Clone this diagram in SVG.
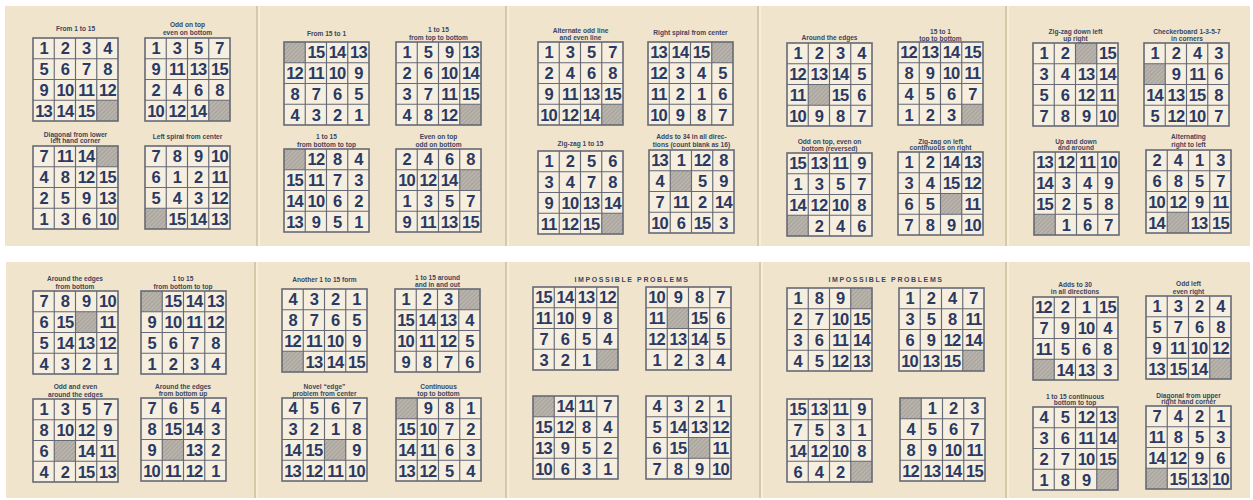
<svg xmlns="http://www.w3.org/2000/svg" xmlns:xlink="http://www.w3.org/1999/xlink" width="1253" height="500" viewBox="0 0 1253 500">
<style>
.n{font-family:"Liberation Sans",Arial,sans-serif;font-weight:bold;font-size:16.5px;fill:#2b3963;text-anchor:middle;letter-spacing:-0.8px}
.l{font-family:"Liberation Sans",Arial,sans-serif;font-weight:bold;font-size:6.6px;fill:#3a4563;text-anchor:middle}
.t{font-family:"Liberation Sans",Arial,sans-serif;font-weight:bold;font-size:7px;fill:#3a4563;text-anchor:middle;letter-spacing:1.6px}
.bl{fill:url(#h)}
.fd{stroke:#d6c8a9;stroke-width:2}
.fh{stroke:#f8f0de;stroke-width:1.5}
</style>
<defs>
<pattern id="h" width="3" height="3" patternUnits="userSpaceOnUse" patternTransform="rotate(45)">
<rect width="3" height="3" fill="#b8b3ab"/>
<line x1="0" y1="0" x2="0" y2="3" stroke="#94908a" stroke-width="1"/>
</pattern>
<rect id="bg" width="85" height="83" fill="#f6efdf"/>
<g id="gl" fill="none" stroke="#666976">
<rect width="85" height="83" stroke-width="1.6"/>
<path d="M21.25 0V83M42.5 0V83M63.75 0V83M0 20.75H85M0 41.5H85M0 62.25H85" stroke-width="1.15"/>
</g>
</defs>

<rect width="1253" height="500" fill="#ffffff"/>
<g id="pages">
<rect x="5" y="6" width="1245" height="240" fill="#f0e5cc"/>
<rect x="6" y="262" width="1244" height="236" fill="#f0e5cc"/>
<line class="fd" x1="257" y1="6" x2="257" y2="246"/><line class="fh" x1="259" y1="6" x2="259" y2="246"/>
<line class="fd" x1="506" y1="6" x2="506" y2="246"/><line class="fh" x1="508" y1="6" x2="508" y2="246"/>
<line class="fd" x1="758" y1="6" x2="758" y2="246"/><line class="fh" x1="760" y1="6" x2="760" y2="246"/>
<line class="fd" x1="1006" y1="6" x2="1006" y2="246"/><line class="fh" x1="1008" y1="6" x2="1008" y2="246"/>
<line class="fd" x1="255" y1="262" x2="255" y2="498"/><line class="fh" x1="257" y1="262" x2="257" y2="498"/>
<line class="fd" x1="506" y1="262" x2="506" y2="498"/><line class="fh" x1="508" y1="262" x2="508" y2="498"/>
<line class="fd" x1="760" y1="262" x2="760" y2="498"/><line class="fh" x1="762" y1="262" x2="762" y2="498"/>
<line class="fd" x1="1006" y1="262" x2="1006" y2="498"/><line class="fh" x1="1008" y1="262" x2="1008" y2="498"/>
</g>
<g id="connectors"/>

<!-- Panel 1 -->
<g id="p1a"><text class="l" x="75.5" y="31">From 1 to 15</text>
<g transform="translate(33,38)"><use href="#bg"/><rect class="bl" x="63.75" y="62.25" width="21.25" height="20.75"/><use href="#gl"/>
<text class="n" y="16.4"><tspan x="10.6">1</tspan><tspan x="31.9">2</tspan><tspan x="53.1">3</tspan><tspan x="74.4">4</tspan></text>
<text class="n" y="37.1"><tspan x="10.6">5</tspan><tspan x="31.9">6</tspan><tspan x="53.1">7</tspan><tspan x="74.4">8</tspan></text>
<text class="n" y="57.9"><tspan x="10.6">9</tspan><tspan x="31.9">10</tspan><tspan x="53.1">11</tspan><tspan x="74.4">12</tspan></text>
<text class="n" y="78.6"><tspan x="10.6">13</tspan><tspan x="31.9">14</tspan><tspan x="53.1">15</tspan></text></g></g>

<g id="p1b"><text class="l" x="187.5" y="26.5">Odd on top</text><text class="l" x="187.5" y="35">even on bottom</text>
<g transform="translate(145,38)"><use href="#bg"/><rect class="bl" x="63.75" y="62.25" width="21.25" height="20.75"/><use href="#gl"/>
<text class="n" y="16.4"><tspan x="10.6">1</tspan><tspan x="31.9">3</tspan><tspan x="53.1">5</tspan><tspan x="74.4">7</tspan></text>
<text class="n" y="37.1"><tspan x="10.6">9</tspan><tspan x="31.9">11</tspan><tspan x="53.1">13</tspan><tspan x="74.4">15</tspan></text>
<text class="n" y="57.9"><tspan x="10.6">2</tspan><tspan x="31.9">4</tspan><tspan x="53.1">6</tspan><tspan x="74.4">8</tspan></text>
<text class="n" y="78.6"><tspan x="10.6">10</tspan><tspan x="31.9">12</tspan><tspan x="53.1">14</tspan></text></g></g>

<g id="p1c"><text class="l" x="75.5" y="136.5">Diagonal from lower</text><text class="l" x="75.5" y="143">left hand corner</text>
<g transform="translate(33,146)"><use href="#bg"/><rect class="bl" x="63.75" y="0" width="21.25" height="20.75"/><use href="#gl"/>
<text class="n" y="16.4"><tspan x="10.6">7</tspan><tspan x="31.9">11</tspan><tspan x="53.1">14</tspan></text>
<text class="n" y="37.1"><tspan x="10.6">4</tspan><tspan x="31.9">8</tspan><tspan x="53.1">12</tspan><tspan x="74.4">15</tspan></text>
<text class="n" y="57.9"><tspan x="10.6">2</tspan><tspan x="31.9">5</tspan><tspan x="53.1">9</tspan><tspan x="74.4">13</tspan></text>
<text class="n" y="78.6"><tspan x="10.6">1</tspan><tspan x="31.9">3</tspan><tspan x="53.1">6</tspan><tspan x="74.4">10</tspan></text></g></g>

<g id="p1d"><text class="l" x="187.5" y="138.5">Left spiral from center</text>
<g transform="translate(145,146)"><use href="#bg"/><rect class="bl" x="0" y="62.25" width="21.25" height="20.75"/><use href="#gl"/>
<text class="n" y="16.4"><tspan x="10.6">7</tspan><tspan x="31.9">8</tspan><tspan x="53.1">9</tspan><tspan x="74.4">10</tspan></text>
<text class="n" y="37.1"><tspan x="10.6">6</tspan><tspan x="31.9">1</tspan><tspan x="53.1">2</tspan><tspan x="74.4">11</tspan></text>
<text class="n" y="57.9"><tspan x="10.6">5</tspan><tspan x="31.9">4</tspan><tspan x="53.1">3</tspan><tspan x="74.4">12</tspan></text>
<text class="n" y="78.6"><tspan x="31.9">15</tspan><tspan x="53.1">14</tspan><tspan x="74.4">13</tspan></text></g></g>

<!-- Panel 2 -->
<g id="p2a"><text class="l" x="326.5" y="36">From 15 to 1</text>
<g transform="translate(284,42)"><use href="#bg"/><rect class="bl" x="0" y="0" width="21.25" height="20.75"/><use href="#gl"/>
<text class="n" y="16.4"><tspan x="31.9">15</tspan><tspan x="53.1">14</tspan><tspan x="74.4">13</tspan></text>
<text class="n" y="37.1"><tspan x="10.6">12</tspan><tspan x="31.9">11</tspan><tspan x="53.1">10</tspan><tspan x="74.4">9</tspan></text>
<text class="n" y="57.9"><tspan x="10.6">8</tspan><tspan x="31.9">7</tspan><tspan x="53.1">6</tspan><tspan x="74.4">5</tspan></text>
<text class="n" y="78.6"><tspan x="10.6">4</tspan><tspan x="31.9">3</tspan><tspan x="53.1">2</tspan><tspan x="74.4">1</tspan></text></g></g>

<g id="p2b"><text class="l" x="438.5" y="32">1 to 15</text><text class="l" x="438.5" y="40">from top to bottom</text>
<g transform="translate(396,42)"><use href="#bg"/><rect class="bl" x="63.75" y="62.25" width="21.25" height="20.75"/><use href="#gl"/>
<text class="n" y="16.4"><tspan x="10.6">1</tspan><tspan x="31.9">5</tspan><tspan x="53.1">9</tspan><tspan x="74.4">13</tspan></text>
<text class="n" y="37.1"><tspan x="10.6">2</tspan><tspan x="31.9">6</tspan><tspan x="53.1">10</tspan><tspan x="74.4">14</tspan></text>
<text class="n" y="57.9"><tspan x="10.6">3</tspan><tspan x="31.9">7</tspan><tspan x="53.1">11</tspan><tspan x="74.4">15</tspan></text>
<text class="n" y="78.6"><tspan x="10.6">4</tspan><tspan x="31.9">8</tspan><tspan x="53.1">12</tspan></text></g></g>

<g id="p2c"><text class="l" x="326.5" y="139">1 to 15</text><text class="l" x="326.5" y="147">from bottom to top</text>
<g transform="translate(284,149)"><use href="#bg"/><rect class="bl" x="0" y="0" width="21.25" height="20.75"/><use href="#gl"/>
<text class="n" y="16.4"><tspan x="31.9">12</tspan><tspan x="53.1">8</tspan><tspan x="74.4">4</tspan></text>
<text class="n" y="37.1"><tspan x="10.6">15</tspan><tspan x="31.9">11</tspan><tspan x="53.1">7</tspan><tspan x="74.4">3</tspan></text>
<text class="n" y="57.9"><tspan x="10.6">14</tspan><tspan x="31.9">10</tspan><tspan x="53.1">6</tspan><tspan x="74.4">2</tspan></text>
<text class="n" y="78.6"><tspan x="10.6">13</tspan><tspan x="31.9">9</tspan><tspan x="53.1">5</tspan><tspan x="74.4">1</tspan></text></g></g>

<g id="p2d"><text class="l" x="438.5" y="139">Even on top</text><text class="l" x="438.5" y="147">odd on bottom</text>
<g transform="translate(396,149)"><use href="#bg"/><rect class="bl" x="63.75" y="20.75" width="21.25" height="20.75"/><use href="#gl"/>
<text class="n" y="16.4"><tspan x="10.6">2</tspan><tspan x="31.9">4</tspan><tspan x="53.1">6</tspan><tspan x="74.4">8</tspan></text>
<text class="n" y="37.1"><tspan x="10.6">10</tspan><tspan x="31.9">12</tspan><tspan x="53.1">14</tspan></text>
<text class="n" y="57.9"><tspan x="10.6">1</tspan><tspan x="31.9">3</tspan><tspan x="53.1">5</tspan><tspan x="74.4">7</tspan></text>
<text class="n" y="78.6"><tspan x="10.6">9</tspan><tspan x="31.9">11</tspan><tspan x="53.1">13</tspan><tspan x="74.4">15</tspan></text></g></g>

<!-- Panel 3 -->
<g id="p3a"><text class="l" x="580.5" y="33">Alternate odd line</text><text class="l" x="580.5" y="40">and even line</text>
<g transform="translate(538,42)"><use href="#bg"/><rect class="bl" x="63.75" y="62.25" width="21.25" height="20.75"/><use href="#gl"/>
<text class="n" y="16.4"><tspan x="10.6">1</tspan><tspan x="31.9">3</tspan><tspan x="53.1">5</tspan><tspan x="74.4">7</tspan></text>
<text class="n" y="37.1"><tspan x="10.6">2</tspan><tspan x="31.9">4</tspan><tspan x="53.1">6</tspan><tspan x="74.4">8</tspan></text>
<text class="n" y="57.9"><tspan x="10.6">9</tspan><tspan x="31.9">11</tspan><tspan x="53.1">13</tspan><tspan x="74.4">15</tspan></text>
<text class="n" y="78.6"><tspan x="10.6">10</tspan><tspan x="31.9">12</tspan><tspan x="53.1">14</tspan></text></g></g>

<g id="p3b"><text class="l" x="690.5" y="35">Right spiral from center</text>
<g transform="translate(648,42)"><use href="#bg"/><rect class="bl" x="63.75" y="0" width="21.25" height="20.75"/><use href="#gl"/>
<text class="n" y="16.4"><tspan x="10.6">13</tspan><tspan x="31.9">14</tspan><tspan x="53.1">15</tspan></text>
<text class="n" y="37.1"><tspan x="10.6">12</tspan><tspan x="31.9">3</tspan><tspan x="53.1">4</tspan><tspan x="74.4">5</tspan></text>
<text class="n" y="57.9"><tspan x="10.6">11</tspan><tspan x="31.9">2</tspan><tspan x="53.1">1</tspan><tspan x="74.4">6</tspan></text>
<text class="n" y="78.6"><tspan x="10.6">10</tspan><tspan x="31.9">9</tspan><tspan x="53.1">8</tspan><tspan x="74.4">7</tspan></text></g></g>

<g id="p3c"><text class="l" x="580.5" y="146">Zig-zag 1 to 15</text>
<g transform="translate(538,151)"><use href="#bg"/><rect class="bl" x="63.75" y="62.25" width="21.25" height="20.75"/><use href="#gl"/>
<text class="n" y="16.4"><tspan x="10.6">1</tspan><tspan x="31.9">2</tspan><tspan x="53.1">5</tspan><tspan x="74.4">6</tspan></text>
<text class="n" y="37.1"><tspan x="10.6">3</tspan><tspan x="31.9">4</tspan><tspan x="53.1">7</tspan><tspan x="74.4">8</tspan></text>
<text class="n" y="57.9"><tspan x="10.6">9</tspan><tspan x="31.9">10</tspan><tspan x="53.1">13</tspan><tspan x="74.4">14</tspan></text>
<text class="n" y="78.6"><tspan x="10.6">11</tspan><tspan x="31.9">12</tspan><tspan x="53.1">15</tspan></text></g></g>

<g id="p3d"><text class="l" x="691.5" y="139">Adds to 34 in all direc-</text><text class="l" x="691.5" y="147">tions (count blank as 16)</text>
<g transform="translate(649,150)"><use href="#bg"/><rect class="bl" x="21.25" y="20.75" width="21.25" height="20.75"/><use href="#gl"/>
<text class="n" y="16.4"><tspan x="10.6">13</tspan><tspan x="31.9">1</tspan><tspan x="53.1">12</tspan><tspan x="74.4">8</tspan></text>
<text class="n" y="37.1"><tspan x="10.6">4</tspan><tspan x="53.1">5</tspan><tspan x="74.4">9</tspan></text>
<text class="n" y="57.9"><tspan x="10.6">7</tspan><tspan x="31.9">11</tspan><tspan x="53.1">2</tspan><tspan x="74.4">14</tspan></text>
<text class="n" y="78.6"><tspan x="10.6">10</tspan><tspan x="31.9">6</tspan><tspan x="53.1">15</tspan><tspan x="74.4">3</tspan></text></g></g>

<!-- Panel 4 -->
<g id="p4a"><text class="l" x="829.5" y="40">Around the edges</text>
<g transform="translate(787,43)"><use href="#bg"/><rect class="bl" x="21.25" y="41.5" width="21.25" height="20.75"/><use href="#gl"/>
<text class="n" y="16.4"><tspan x="10.6">1</tspan><tspan x="31.9">2</tspan><tspan x="53.1">3</tspan><tspan x="74.4">4</tspan></text>
<text class="n" y="37.1"><tspan x="10.6">12</tspan><tspan x="31.9">13</tspan><tspan x="53.1">14</tspan><tspan x="74.4">5</tspan></text>
<text class="n" y="57.9"><tspan x="10.6">11</tspan><tspan x="53.1">15</tspan><tspan x="74.4">6</tspan></text>
<text class="n" y="78.6"><tspan x="10.6">10</tspan><tspan x="31.9">9</tspan><tspan x="53.1">8</tspan><tspan x="74.4">7</tspan></text></g></g>

<g id="p4b"><text class="l" x="940.5" y="34">15 to 1</text><text class="l" x="940.5" y="40.5">top to bottom</text>
<g transform="translate(898,42)"><use href="#bg"/><rect class="bl" x="63.75" y="62.25" width="21.25" height="20.75"/><use href="#gl"/>
<text class="n" y="16.4"><tspan x="10.6">12</tspan><tspan x="31.9">13</tspan><tspan x="53.1">14</tspan><tspan x="74.4">15</tspan></text>
<text class="n" y="37.1"><tspan x="10.6">8</tspan><tspan x="31.9">9</tspan><tspan x="53.1">10</tspan><tspan x="74.4">11</tspan></text>
<text class="n" y="57.9"><tspan x="10.6">4</tspan><tspan x="31.9">5</tspan><tspan x="53.1">6</tspan><tspan x="74.4">7</tspan></text>
<text class="n" y="78.6"><tspan x="10.6">1</tspan><tspan x="31.9">2</tspan><tspan x="53.1">3</tspan></text></g></g>

<g id="p4c"><text class="l" x="829.5" y="144">Odd on top, even on</text><text class="l" x="829.5" y="151">bottom (reversed)</text>
<g transform="translate(787,153)"><use href="#bg"/><rect class="bl" x="0" y="62.25" width="21.25" height="20.75"/><use href="#gl"/>
<text class="n" y="16.4"><tspan x="10.6">15</tspan><tspan x="31.9">13</tspan><tspan x="53.1">11</tspan><tspan x="74.4">9</tspan></text>
<text class="n" y="37.1"><tspan x="10.6">1</tspan><tspan x="31.9">3</tspan><tspan x="53.1">5</tspan><tspan x="74.4">7</tspan></text>
<text class="n" y="57.9"><tspan x="10.6">14</tspan><tspan x="31.9">12</tspan><tspan x="53.1">10</tspan><tspan x="74.4">8</tspan></text>
<text class="n" y="78.6"><tspan x="31.9">2</tspan><tspan x="53.1">4</tspan><tspan x="74.4">6</tspan></text></g></g>

<g id="p4d"><text class="l" x="940.5" y="144">Zig-zag on left</text><text class="l" x="940.5" y="149.5">continuous on right</text>
<g transform="translate(898,152)"><use href="#bg"/><rect class="bl" x="42.5" y="41.5" width="21.25" height="20.75"/><use href="#gl"/>
<text class="n" y="16.4"><tspan x="10.6">1</tspan><tspan x="31.9">2</tspan><tspan x="53.1">14</tspan><tspan x="74.4">13</tspan></text>
<text class="n" y="37.1"><tspan x="10.6">3</tspan><tspan x="31.9">4</tspan><tspan x="53.1">15</tspan><tspan x="74.4">12</tspan></text>
<text class="n" y="57.9"><tspan x="10.6">6</tspan><tspan x="31.9">5</tspan><tspan x="74.4">11</tspan></text>
<text class="n" y="78.6"><tspan x="10.6">7</tspan><tspan x="31.9">8</tspan><tspan x="53.1">9</tspan><tspan x="74.4">10</tspan></text></g></g>

<!-- Panel 5 -->
<g id="p5a"><text class="l" x="1075.5" y="33.5">Zig-zag down left</text><text class="l" x="1075.5" y="40.5">up right</text>
<g transform="translate(1033,43)"><use href="#bg"/><rect class="bl" x="42.5" y="0" width="21.25" height="20.75"/><use href="#gl"/>
<text class="n" y="16.4"><tspan x="10.6">1</tspan><tspan x="31.9">2</tspan><tspan x="74.4">15</tspan></text>
<text class="n" y="37.1"><tspan x="10.6">3</tspan><tspan x="31.9">4</tspan><tspan x="53.1">13</tspan><tspan x="74.4">14</tspan></text>
<text class="n" y="57.9"><tspan x="10.6">5</tspan><tspan x="31.9">6</tspan><tspan x="53.1">12</tspan><tspan x="74.4">11</tspan></text>
<text class="n" y="78.6"><tspan x="10.6">7</tspan><tspan x="31.9">8</tspan><tspan x="53.1">9</tspan><tspan x="74.4">10</tspan></text></g></g>

<g id="p5b"><text class="l" x="1187" y="33.5">Checkerboard 1-3-5-7</text><text class="l" x="1187" y="40.5">in corners</text>
<g transform="translate(1144,43)"><use href="#bg"/><rect class="bl" x="0" y="20.75" width="21.25" height="20.75"/><use href="#gl"/>
<text class="n" y="16.4"><tspan x="10.6">1</tspan><tspan x="31.9">2</tspan><tspan x="53.1">4</tspan><tspan x="74.4">3</tspan></text>
<text class="n" y="37.1"><tspan x="31.9">9</tspan><tspan x="53.1">11</tspan><tspan x="74.4">6</tspan></text>
<text class="n" y="57.9"><tspan x="10.6">14</tspan><tspan x="31.9">13</tspan><tspan x="53.1">15</tspan><tspan x="74.4">8</tspan></text>
<text class="n" y="78.6"><tspan x="10.6">5</tspan><tspan x="31.9">12</tspan><tspan x="53.1">10</tspan><tspan x="74.4">7</tspan></text></g></g>

<g id="p5c"><text class="l" x="1076" y="144">Up and down</text><text class="l" x="1076" y="150">and around</text>
<g transform="translate(1034,152)"><use href="#bg"/><rect class="bl" x="0" y="62.25" width="21.25" height="20.75"/><use href="#gl"/>
<text class="n" y="16.4"><tspan x="10.6">13</tspan><tspan x="31.9">12</tspan><tspan x="53.1">11</tspan><tspan x="74.4">10</tspan></text>
<text class="n" y="37.1"><tspan x="10.6">14</tspan><tspan x="31.9">3</tspan><tspan x="53.1">4</tspan><tspan x="74.4">9</tspan></text>
<text class="n" y="57.9"><tspan x="10.6">15</tspan><tspan x="31.9">2</tspan><tspan x="53.1">5</tspan><tspan x="74.4">8</tspan></text>
<text class="n" y="78.6"><tspan x="31.9">1</tspan><tspan x="53.1">6</tspan><tspan x="74.4">7</tspan></text></g></g>

<g id="p5d"><text class="l" x="1188.5" y="139">Alternating</text><text class="l" x="1188.5" y="147">right to left</text>
<g transform="translate(1146,150)"><use href="#bg"/><rect class="bl" x="21.25" y="62.25" width="21.25" height="20.75"/><use href="#gl"/>
<text class="n" y="16.4"><tspan x="10.6">2</tspan><tspan x="31.9">4</tspan><tspan x="53.1">1</tspan><tspan x="74.4">3</tspan></text>
<text class="n" y="37.1"><tspan x="10.6">6</tspan><tspan x="31.9">8</tspan><tspan x="53.1">5</tspan><tspan x="74.4">7</tspan></text>
<text class="n" y="57.9"><tspan x="10.6">10</tspan><tspan x="31.9">12</tspan><tspan x="53.1">9</tspan><tspan x="74.4">11</tspan></text>
<text class="n" y="78.6"><tspan x="10.6">14</tspan><tspan x="53.1">13</tspan><tspan x="74.4">15</tspan></text></g></g>

<!-- Panel 6 -->
<g id="p6a"><text class="l" x="75" y="281">Around the edges</text><text class="l" x="75" y="289">from bottom</text>
<g transform="translate(33,291)"><use href="#bg"/><rect class="bl" x="42.5" y="20.75" width="21.25" height="20.75"/><use href="#gl"/>
<text class="n" y="16.4"><tspan x="10.6">7</tspan><tspan x="31.9">8</tspan><tspan x="53.1">9</tspan><tspan x="74.4">10</tspan></text>
<text class="n" y="37.1"><tspan x="10.6">6</tspan><tspan x="31.9">15</tspan><tspan x="74.4">11</tspan></text>
<text class="n" y="57.9"><tspan x="10.6">5</tspan><tspan x="31.9">14</tspan><tspan x="53.1">13</tspan><tspan x="74.4">12</tspan></text>
<text class="n" y="78.6"><tspan x="10.6">4</tspan><tspan x="31.9">3</tspan><tspan x="53.1">2</tspan><tspan x="74.4">1</tspan></text></g></g>

<g id="p6b"><text class="l" x="183" y="281">1 to 15</text><text class="l" x="183" y="288.5">from bottom to top</text>
<g transform="translate(141,291)"><use href="#bg"/><rect class="bl" x="0" y="0" width="21.25" height="20.75"/><use href="#gl"/>
<text class="n" y="16.4"><tspan x="31.9">15</tspan><tspan x="53.1">14</tspan><tspan x="74.4">13</tspan></text>
<text class="n" y="37.1"><tspan x="10.6">9</tspan><tspan x="31.9">10</tspan><tspan x="53.1">11</tspan><tspan x="74.4">12</tspan></text>
<text class="n" y="57.9"><tspan x="10.6">5</tspan><tspan x="31.9">6</tspan><tspan x="53.1">7</tspan><tspan x="74.4">8</tspan></text>
<text class="n" y="78.6"><tspan x="10.6">1</tspan><tspan x="31.9">2</tspan><tspan x="53.1">3</tspan><tspan x="74.4">4</tspan></text></g></g>

<g id="p6c"><text class="l" x="75.5" y="389">Odd and even</text><text class="l" x="75.5" y="397">around the edges</text>
<g transform="translate(33,399)"><use href="#bg"/><rect class="bl" x="21.25" y="41.5" width="21.25" height="20.75"/><use href="#gl"/>
<text class="n" y="16.4"><tspan x="10.6">1</tspan><tspan x="31.9">3</tspan><tspan x="53.1">5</tspan><tspan x="74.4">7</tspan></text>
<text class="n" y="37.1"><tspan x="10.6">8</tspan><tspan x="31.9">10</tspan><tspan x="53.1">12</tspan><tspan x="74.4">9</tspan></text>
<text class="n" y="57.9"><tspan x="10.6">6</tspan><tspan x="53.1">14</tspan><tspan x="74.4">11</tspan></text>
<text class="n" y="78.6"><tspan x="10.6">4</tspan><tspan x="31.9">2</tspan><tspan x="53.1">15</tspan><tspan x="74.4">13</tspan></text></g></g>

<g id="p6d"><text class="l" x="183" y="389">Around the edges</text><text class="l" x="183" y="396">from bottom up</text>
<g transform="translate(141,398)"><use href="#bg"/><rect class="bl" x="21.25" y="41.5" width="21.25" height="20.75"/><use href="#gl"/>
<text class="n" y="16.4"><tspan x="10.6">7</tspan><tspan x="31.9">6</tspan><tspan x="53.1">5</tspan><tspan x="74.4">4</tspan></text>
<text class="n" y="37.1"><tspan x="10.6">8</tspan><tspan x="31.9">15</tspan><tspan x="53.1">14</tspan><tspan x="74.4">3</tspan></text>
<text class="n" y="57.9"><tspan x="10.6">9</tspan><tspan x="53.1">13</tspan><tspan x="74.4">2</tspan></text>
<text class="n" y="78.6"><tspan x="10.6">10</tspan><tspan x="31.9">11</tspan><tspan x="53.1">12</tspan><tspan x="74.4">1</tspan></text></g></g>

<!-- Panel 7 -->
<g id="p7a"><text class="l" x="324.5" y="282">Another 1 to 15 form</text>
<g transform="translate(282,289)"><use href="#bg"/><rect class="bl" x="0" y="62.25" width="21.25" height="20.75"/><use href="#gl"/>
<text class="n" y="16.4"><tspan x="10.6">4</tspan><tspan x="31.9">3</tspan><tspan x="53.1">2</tspan><tspan x="74.4">1</tspan></text>
<text class="n" y="37.1"><tspan x="10.6">8</tspan><tspan x="31.9">7</tspan><tspan x="53.1">6</tspan><tspan x="74.4">5</tspan></text>
<text class="n" y="57.9"><tspan x="10.6">12</tspan><tspan x="31.9">11</tspan><tspan x="53.1">10</tspan><tspan x="74.4">9</tspan></text>
<text class="n" y="78.6"><tspan x="31.9">13</tspan><tspan x="53.1">14</tspan><tspan x="74.4">15</tspan></text></g></g>

<g id="p7b"><text class="l" x="437.5" y="280">1 to 15 around</text><text class="l" x="437.5" y="287">and in and out</text>
<g transform="translate(395,289)"><use href="#bg"/><rect class="bl" x="63.75" y="0" width="21.25" height="20.75"/><use href="#gl"/>
<text class="n" y="16.4"><tspan x="10.6">1</tspan><tspan x="31.9">2</tspan><tspan x="53.1">3</tspan></text>
<text class="n" y="37.1"><tspan x="10.6">15</tspan><tspan x="31.9">14</tspan><tspan x="53.1">13</tspan><tspan x="74.4">4</tspan></text>
<text class="n" y="57.9"><tspan x="10.6">10</tspan><tspan x="31.9">11</tspan><tspan x="53.1">12</tspan><tspan x="74.4">5</tspan></text>
<text class="n" y="78.6"><tspan x="10.6">9</tspan><tspan x="31.9">8</tspan><tspan x="53.1">7</tspan><tspan x="74.4">6</tspan></text></g></g>

<g id="p7c"><text class="l" x="324.5" y="389">Novel “edge”</text><text class="l" x="324.5" y="396">problem from center</text>
<g transform="translate(282,398)"><use href="#bg"/><rect class="bl" x="42.5" y="41.5" width="21.25" height="20.75"/><use href="#gl"/>
<text class="n" y="16.4"><tspan x="10.6">4</tspan><tspan x="31.9">5</tspan><tspan x="53.1">6</tspan><tspan x="74.4">7</tspan></text>
<text class="n" y="37.1"><tspan x="10.6">3</tspan><tspan x="31.9">2</tspan><tspan x="53.1">1</tspan><tspan x="74.4">8</tspan></text>
<text class="n" y="57.9"><tspan x="10.6">14</tspan><tspan x="31.9">15</tspan><tspan x="74.4">9</tspan></text>
<text class="n" y="78.6"><tspan x="10.6">13</tspan><tspan x="31.9">12</tspan><tspan x="53.1">11</tspan><tspan x="74.4">10</tspan></text></g></g>

<g id="p7d"><text class="l" x="438.5" y="389">Continuous</text><text class="l" x="438.5" y="396">top to bottom</text>
<g transform="translate(396,398)"><use href="#bg"/><rect class="bl" x="0" y="0" width="21.25" height="20.75"/><use href="#gl"/>
<text class="n" y="16.4"><tspan x="31.9">9</tspan><tspan x="53.1">8</tspan><tspan x="74.4">1</tspan></text>
<text class="n" y="37.1"><tspan x="10.6">15</tspan><tspan x="31.9">10</tspan><tspan x="53.1">7</tspan><tspan x="74.4">2</tspan></text>
<text class="n" y="57.9"><tspan x="10.6">14</tspan><tspan x="31.9">11</tspan><tspan x="53.1">6</tspan><tspan x="74.4">3</tspan></text>
<text class="n" y="78.6"><tspan x="10.6">13</tspan><tspan x="31.9">12</tspan><tspan x="53.1">5</tspan><tspan x="74.4">4</tspan></text></g></g>

<!-- Panel 8 -->
<text id="p8t" class="t" x="632" y="281.5">IMPOSSIBLE  PROBLEMS</text>
<g id="p8a"><g transform="translate(533,287)"><use href="#bg"/><rect class="bl" x="63.75" y="62.25" width="21.25" height="20.75"/><use href="#gl"/>
<text class="n" y="16.4"><tspan x="10.6">15</tspan><tspan x="31.9">14</tspan><tspan x="53.1">13</tspan><tspan x="74.4">12</tspan></text>
<text class="n" y="37.1"><tspan x="10.6">11</tspan><tspan x="31.9">10</tspan><tspan x="53.1">9</tspan><tspan x="74.4">8</tspan></text>
<text class="n" y="57.9"><tspan x="10.6">7</tspan><tspan x="31.9">6</tspan><tspan x="53.1">5</tspan><tspan x="74.4">4</tspan></text>
<text class="n" y="78.6"><tspan x="10.6">3</tspan><tspan x="31.9">2</tspan><tspan x="53.1">1</tspan></text></g></g>

<g id="p8b"><g transform="translate(646,287)"><use href="#bg"/><rect class="bl" x="21.25" y="20.75" width="21.25" height="20.75"/><use href="#gl"/>
<text class="n" y="16.4"><tspan x="10.6">10</tspan><tspan x="31.9">9</tspan><tspan x="53.1">8</tspan><tspan x="74.4">7</tspan></text>
<text class="n" y="37.1"><tspan x="10.6">11</tspan><tspan x="53.1">15</tspan><tspan x="74.4">6</tspan></text>
<text class="n" y="57.9"><tspan x="10.6">12</tspan><tspan x="31.9">13</tspan><tspan x="53.1">14</tspan><tspan x="74.4">5</tspan></text>
<text class="n" y="78.6"><tspan x="10.6">1</tspan><tspan x="31.9">2</tspan><tspan x="53.1">3</tspan><tspan x="74.4">4</tspan></text></g></g>

<g id="p8c"><g transform="translate(533,396)"><use href="#bg"/><rect class="bl" x="0" y="0" width="21.25" height="20.75"/><use href="#gl"/>
<text class="n" y="16.4"><tspan x="31.9">14</tspan><tspan x="53.1">11</tspan><tspan x="74.4">7</tspan></text>
<text class="n" y="37.1"><tspan x="10.6">15</tspan><tspan x="31.9">12</tspan><tspan x="53.1">8</tspan><tspan x="74.4">4</tspan></text>
<text class="n" y="57.9"><tspan x="10.6">13</tspan><tspan x="31.9">9</tspan><tspan x="53.1">5</tspan><tspan x="74.4">2</tspan></text>
<text class="n" y="78.6"><tspan x="10.6">10</tspan><tspan x="31.9">6</tspan><tspan x="53.1">3</tspan><tspan x="74.4">1</tspan></text></g></g>

<g id="p8d"><g transform="translate(646,396)"><use href="#bg"/><rect class="bl" x="42.5" y="41.5" width="21.25" height="20.75"/><use href="#gl"/>
<text class="n" y="16.4"><tspan x="10.6">4</tspan><tspan x="31.9">3</tspan><tspan x="53.1">2</tspan><tspan x="74.4">1</tspan></text>
<text class="n" y="37.1"><tspan x="10.6">5</tspan><tspan x="31.9">14</tspan><tspan x="53.1">13</tspan><tspan x="74.4">12</tspan></text>
<text class="n" y="57.9"><tspan x="10.6">6</tspan><tspan x="31.9">15</tspan><tspan x="74.4">11</tspan></text>
<text class="n" y="78.6"><tspan x="10.6">7</tspan><tspan x="31.9">8</tspan><tspan x="53.1">9</tspan><tspan x="74.4">10</tspan></text></g></g>

<!-- Panel 9 -->
<text id="p9t" class="t" x="886" y="281.5">IMPOSSIBLE  PROBLEMS</text>
<g id="p9a"><g transform="translate(787,288)"><use href="#bg"/><rect class="bl" x="63.75" y="0" width="21.25" height="20.75"/><use href="#gl"/>
<text class="n" y="16.4"><tspan x="10.6">1</tspan><tspan x="31.9">8</tspan><tspan x="53.1">9</tspan></text>
<text class="n" y="37.1"><tspan x="10.6">2</tspan><tspan x="31.9">7</tspan><tspan x="53.1">10</tspan><tspan x="74.4">15</tspan></text>
<text class="n" y="57.9"><tspan x="10.6">3</tspan><tspan x="31.9">6</tspan><tspan x="53.1">11</tspan><tspan x="74.4">14</tspan></text>
<text class="n" y="78.6"><tspan x="10.6">4</tspan><tspan x="31.9">5</tspan><tspan x="53.1">12</tspan><tspan x="74.4">13</tspan></text></g></g>

<g id="p9b"><g transform="translate(899,288)"><use href="#bg"/><rect class="bl" x="63.75" y="62.25" width="21.25" height="20.75"/><use href="#gl"/>
<text class="n" y="16.4"><tspan x="10.6">1</tspan><tspan x="31.9">2</tspan><tspan x="53.1">4</tspan><tspan x="74.4">7</tspan></text>
<text class="n" y="37.1"><tspan x="10.6">3</tspan><tspan x="31.9">5</tspan><tspan x="53.1">8</tspan><tspan x="74.4">11</tspan></text>
<text class="n" y="57.9"><tspan x="10.6">6</tspan><tspan x="31.9">9</tspan><tspan x="53.1">12</tspan><tspan x="74.4">14</tspan></text>
<text class="n" y="78.6"><tspan x="10.6">10</tspan><tspan x="31.9">13</tspan><tspan x="53.1">15</tspan></text></g></g>

<g id="p9c"><g transform="translate(787,399)"><use href="#bg"/><rect class="bl" x="63.75" y="62.25" width="21.25" height="20.75"/><use href="#gl"/>
<text class="n" y="16.4"><tspan x="10.6">15</tspan><tspan x="31.9">13</tspan><tspan x="53.1">11</tspan><tspan x="74.4">9</tspan></text>
<text class="n" y="37.1"><tspan x="10.6">7</tspan><tspan x="31.9">5</tspan><tspan x="53.1">3</tspan><tspan x="74.4">1</tspan></text>
<text class="n" y="57.9"><tspan x="10.6">14</tspan><tspan x="31.9">12</tspan><tspan x="53.1">10</tspan><tspan x="74.4">8</tspan></text>
<text class="n" y="78.6"><tspan x="10.6">6</tspan><tspan x="31.9">4</tspan><tspan x="53.1">2</tspan></text></g></g>

<g id="p9d"><g transform="translate(900,398)"><use href="#bg"/><rect class="bl" x="0" y="0" width="21.25" height="20.75"/><use href="#gl"/>
<text class="n" y="16.4"><tspan x="31.9">1</tspan><tspan x="53.1">2</tspan><tspan x="74.4">3</tspan></text>
<text class="n" y="37.1"><tspan x="10.6">4</tspan><tspan x="31.9">5</tspan><tspan x="53.1">6</tspan><tspan x="74.4">7</tspan></text>
<text class="n" y="57.9"><tspan x="10.6">8</tspan><tspan x="31.9">9</tspan><tspan x="53.1">10</tspan><tspan x="74.4">11</tspan></text>
<text class="n" y="78.6"><tspan x="10.6">12</tspan><tspan x="31.9">13</tspan><tspan x="53.1">14</tspan><tspan x="74.4">15</tspan></text></g></g>

<!-- Panel 10 -->
<g id="p10a"><text class="l" x="1075" y="287">Adds to 30</text><text class="l" x="1075" y="294">in all directions</text>
<g transform="translate(1033,297)"><use href="#bg"/><rect class="bl" x="0" y="62.25" width="21.25" height="20.75"/><use href="#gl"/>
<text class="n" y="16.4"><tspan x="10.6">12</tspan><tspan x="31.9">2</tspan><tspan x="53.1">1</tspan><tspan x="74.4">15</tspan></text>
<text class="n" y="37.1"><tspan x="10.6">7</tspan><tspan x="31.9">9</tspan><tspan x="53.1">10</tspan><tspan x="74.4">4</tspan></text>
<text class="n" y="57.9"><tspan x="10.6">11</tspan><tspan x="31.9">5</tspan><tspan x="53.1">6</tspan><tspan x="74.4">8</tspan></text>
<text class="n" y="78.6"><tspan x="31.9">14</tspan><tspan x="53.1">13</tspan><tspan x="74.4">3</tspan></text></g></g>

<g id="p10b"><text class="l" x="1188.5" y="286">Odd left</text><text class="l" x="1188.5" y="294">even right</text>
<g transform="translate(1146,296)"><use href="#bg"/><rect class="bl" x="63.75" y="62.25" width="21.25" height="20.75"/><use href="#gl"/>
<text class="n" y="16.4"><tspan x="10.6">1</tspan><tspan x="31.9">3</tspan><tspan x="53.1">2</tspan><tspan x="74.4">4</tspan></text>
<text class="n" y="37.1"><tspan x="10.6">5</tspan><tspan x="31.9">7</tspan><tspan x="53.1">6</tspan><tspan x="74.4">8</tspan></text>
<text class="n" y="57.9"><tspan x="10.6">9</tspan><tspan x="31.9">11</tspan><tspan x="53.1">10</tspan><tspan x="74.4">12</tspan></text>
<text class="n" y="78.6"><tspan x="10.6">13</tspan><tspan x="31.9">15</tspan><tspan x="53.1">14</tspan></text></g></g>

<g id="p10c"><text class="l" x="1075" y="399">1 to 15 continuous</text><text class="l" x="1075" y="405">bottom to top</text>
<g transform="translate(1033,407)"><use href="#bg"/><rect class="bl" x="63.75" y="62.25" width="21.25" height="20.75"/><use href="#gl"/>
<text class="n" y="16.4"><tspan x="10.6">4</tspan><tspan x="31.9">5</tspan><tspan x="53.1">12</tspan><tspan x="74.4">13</tspan></text>
<text class="n" y="37.1"><tspan x="10.6">3</tspan><tspan x="31.9">6</tspan><tspan x="53.1">11</tspan><tspan x="74.4">14</tspan></text>
<text class="n" y="57.9"><tspan x="10.6">2</tspan><tspan x="31.9">7</tspan><tspan x="53.1">10</tspan><tspan x="74.4">15</tspan></text>
<text class="n" y="78.6"><tspan x="10.6">1</tspan><tspan x="31.9">8</tspan><tspan x="53.1">9</tspan></text></g></g>

<g id="p10d"><text class="l" x="1188.5" y="398">Diagonal from upper</text><text class="l" x="1188.5" y="404">right hand corner</text>
<g transform="translate(1146,406)"><use href="#bg"/><rect class="bl" x="0" y="62.25" width="21.25" height="20.75"/><use href="#gl"/>
<text class="n" y="16.4"><tspan x="10.6">7</tspan><tspan x="31.9">4</tspan><tspan x="53.1">2</tspan><tspan x="74.4">1</tspan></text>
<text class="n" y="37.1"><tspan x="10.6">11</tspan><tspan x="31.9">8</tspan><tspan x="53.1">5</tspan><tspan x="74.4">3</tspan></text>
<text class="n" y="57.9"><tspan x="10.6">14</tspan><tspan x="31.9">12</tspan><tspan x="53.1">9</tspan><tspan x="74.4">6</tspan></text>
<text class="n" y="78.6"><tspan x="31.9">15</tspan><tspan x="53.1">13</tspan><tspan x="74.4">10</tspan></text></g></g>
</svg>
